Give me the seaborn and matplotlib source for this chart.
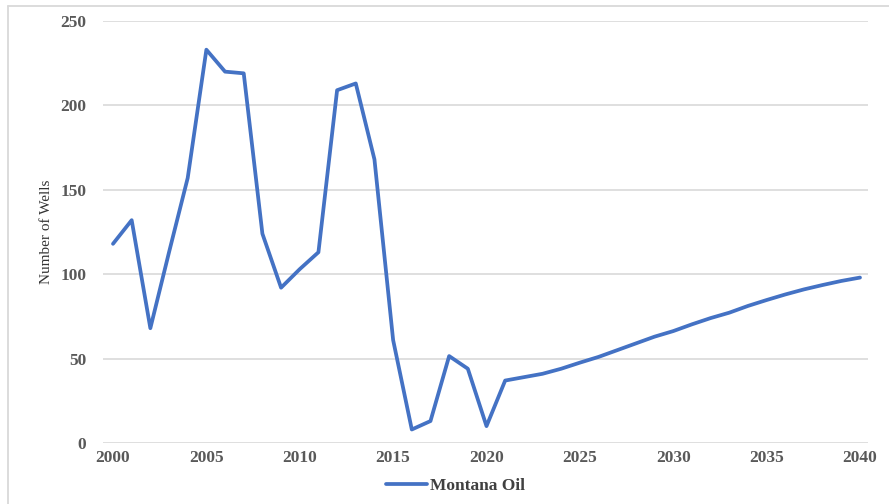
import seaborn as sns
import matplotlib.pyplot as plt
import pandas as pd
from matplotlib.lines import Line2D

years = list(range(2000, 2041))
wells = [118, 132, 68, 113, 157, 233, 220, 219, 124, 92,
         103, 113, 209, 213, 168, 61, 8, 13, 51.5, 44,
         10, 37, 39, 41, 44, 47.6, 51, 55, 59, 63,
         66.3, 70.3, 74, 77.2, 81.2, 84.7, 88, 91, 93.6, 96,
         98]
y_ticks = [0, 50, 100, 150, 200, 250]
x_ticks = [2000, 2005, 2010, 2015, 2020, 2025, 2030, 2035, 2040]

df = pd.DataFrame({"Year": years, "Wells": wells})

sns.set_style("white")
serif = ["Liberation Serif", "DejaVu Serif"]
tick_color = "#595959"

fig = plt.figure(figsize=(8.89, 5.04), dpi=100)
ax = fig.add_axes([103 / 889, 1 - 443 / 504, 765 / 889, 422 / 504])

sns.lineplot(data=df, x="Year", y="Wells", ax=ax, color="#4472C4",
             linewidth=2.7, label="Montana Oil", legend=False)

ax.set_xlim(2000 - 10 / 18.675, 2040 + 8 / 18.675)
ax.set_ylim(0, 250)
ax.set_xticks(x_ticks)
ax.set_yticks(y_ticks)
ax.set_xticklabels([str(t) for t in x_ticks])
ax.set_yticklabels([str(t) for t in y_ticks])
ax.grid(axis="y", color="#d9d9d9", linewidth=1.2)
ax.set_axisbelow(True)
for s in ax.spines.values():
    s.set_visible(False)
ax.tick_params(axis="both", length=0, colors=tick_color)
ax.tick_params(axis="y", pad=12)
ax.tick_params(axis="x", pad=5)
for lab in ax.get_xticklabels() + ax.get_yticklabels():
    lab.set_family(serif)
    lab.set_fontweight("bold")
    lab.set_fontsize(12.5)
ax.set_xlabel("")
ax.set_ylabel("Number of Wells", family=serif, fontsize=11, color="#333333", labelpad=5)

handles, labels = ax.get_legend_handles_labels()
leg = fig.legend(handles, labels, loc="center", bbox_to_anchor=(0.512, 0.036),
                 frameon=False, handlelength=2.4, handletextpad=0.15,
                 prop={"family": serif, "weight": "bold", "size": 12.5})
for t in leg.get_texts():
    t.set_color("#404040")

# thin grey frame around the chart area (top and left edges)
fig.add_artist(Line2D([8 / 889, 1], [1 - 6 / 504, 1 - 6 / 504], color="#d9d9d9", linewidth=1.3))
fig.add_artist(Line2D([8 / 889, 8 / 889], [0, 1 - 6 / 504], color="#d9d9d9", linewidth=1.3))

fig.savefig("out.png", dpi=100)
